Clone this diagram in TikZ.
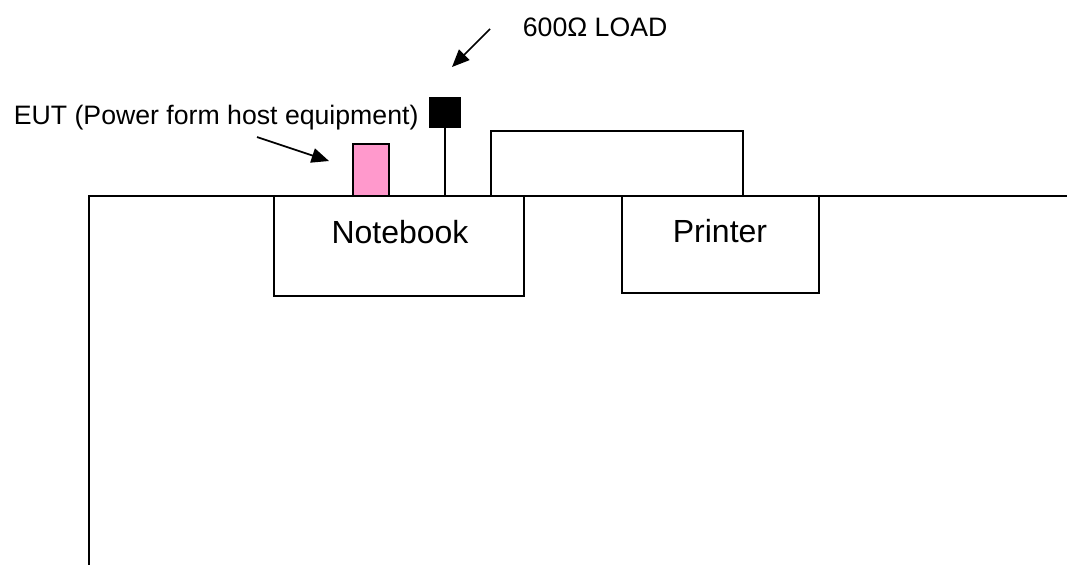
\documentclass[tikz,border=0pt]{standalone}
\usepackage{fontspec}
\setmainfont{Liberation Sans}
\usetikzlibrary{arrows.meta}
\definecolor{eutpink}{HTML}{FF99CC}
\begin{document}
\begin{tikzpicture}[x=0.75pt,y=-0.75pt,
  line width=1.3pt,
  box/.style={draw, line width=1.3pt, inner sep=0pt, outer sep=0pt},
  lbl/.style={inner sep=0pt, font=\fontsize{20}{24}\selectfont},
  big/.style={inner sep=0pt, font=\fontsize{24}{28}\selectfont},
  arr/.style={-{Triangle[length=13pt,width=11pt]}, line width=1.3pt}]
\useasboundingbox (0,0) rectangle (1067,565);
% table
\coordinate (tR) at (1067,196);
\coordinate (tL) at (89,196);
\coordinate (tB) at (89,565);
\draw (tR) -- (tL) -- (tB);
% notebook and printer
\node[box, anchor=north west, minimum width=187.5pt, minimum height=75pt, fill=white] (nb) at (274,196) {};
\node[big, anchor=base] (nbt) at (400,243) {Notebook};
\node[box, anchor=north west, minimum width=147.75pt, minimum height=72.75pt, fill=white] (pr) at (622,196) {};
\node[big, anchor=base] (prt) at (720,242) {Printer};
% EUT
\node[box, anchor=south west, minimum width=27pt, minimum height=39pt, fill=eutpink] (eutbox) at (353,196) {};
% load
\node[box, anchor=north west, minimum width=22.5pt, minimum height=21.75pt, fill=black] (sq) at (430,98) {};
\draw (sq.south) -- (sq.south |- nb.north);
% cable
\coordinate (c1) at (491,196);
\coordinate (c2) at (743,196);
\draw (c1) -- ++(0,-65) -| (c2);
% labels
\node[lbl, anchor=base west] (eut) at (13,124) {EUT (Power form host equipment)};
\node[lbl, anchor=base west] (load) at (522,36) {600Ω LOAD};
\coordinate (a1s) at (257,137);
\coordinate (a1e) at (329,161);
\draw[arr] (a1s) -- (a1e);
\coordinate (a2s) at (490,29);
\coordinate (a2e) at (452,67);
\draw[arr] (a2s) -- (a2e);
\end{tikzpicture}
\end{document}
